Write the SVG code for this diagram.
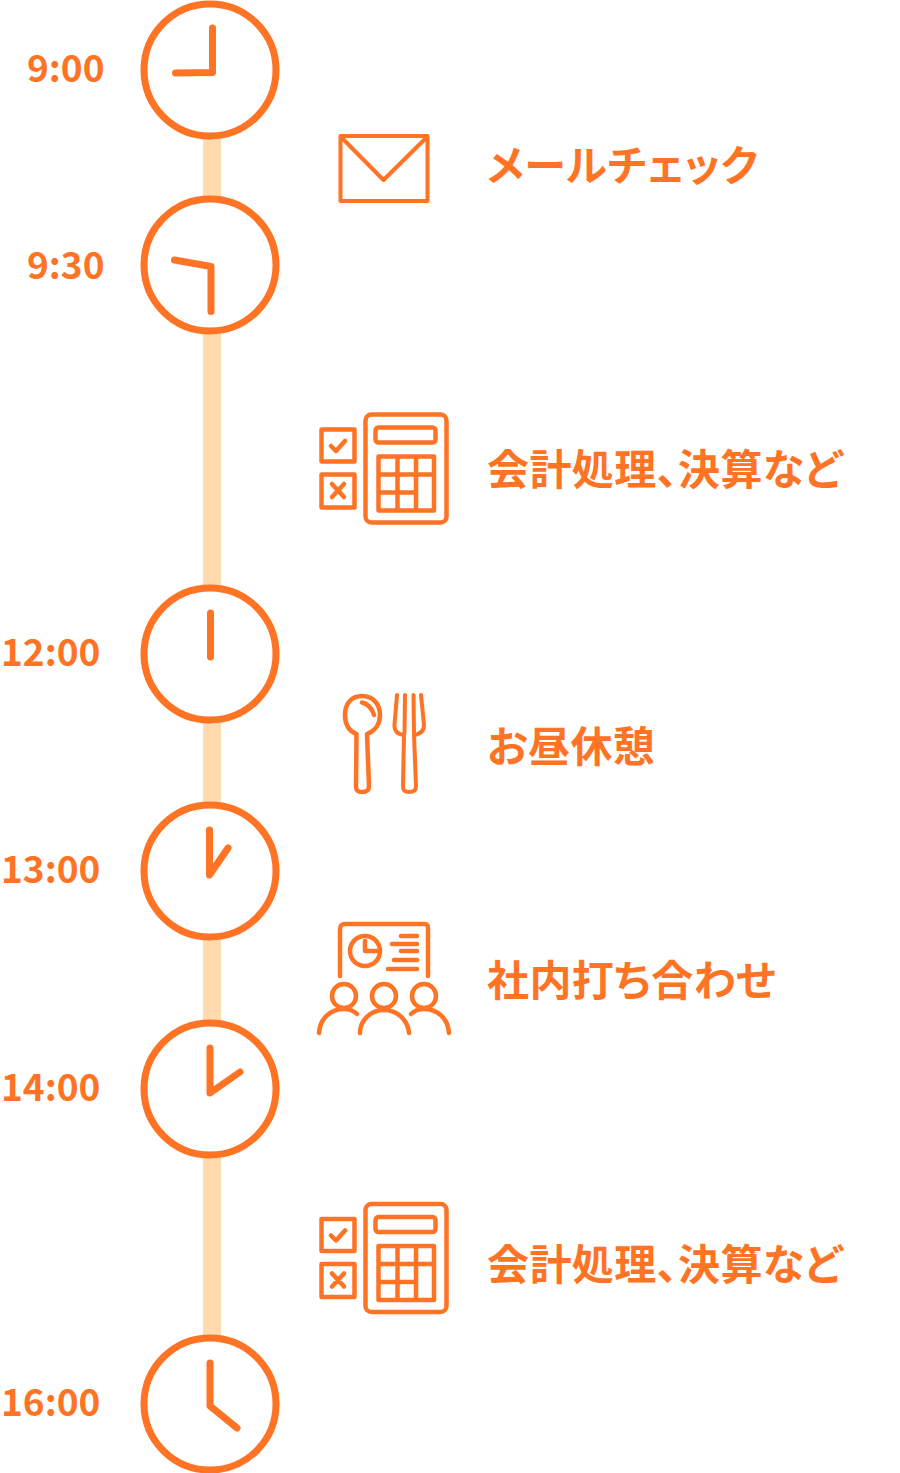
<svg xmlns="http://www.w3.org/2000/svg" width="900" height="1473" viewBox="0 0 900 1473">
<style>
.l{fill:#ffdbae}
.c{fill:#fff;stroke:#ff7324;stroke-width:7}
.h,.i{fill:none;stroke:#ff7324;stroke-linecap:round;stroke-linejoin:round}
.h{stroke-width:7}
.i{stroke-width:4}
.s{stroke-width:4.500}
text{fill:#ff7324;font-family:"Noto Sans CJK JP","Noto Sans",sans-serif;font-weight:700}
.t{font-size:37px}
.a{font-size:42px;letter-spacing:.4px;font-feature-settings:"palt"}
</style>
<defs>
<g id="calc">
<rect class="i s" x="365.500" y="414.500" width="81" height="108" rx="6"/>
<rect class="i s" x="375.500" y="427.500" width="60" height="15" rx="3"/>
<path class="i s" d="M378.500 456.500H434V510.500H378.500ZM378.500 474.500H434M378.500 492.500H416M397.500 456.500V510.500M416 456.500V510.500"/>
<rect class="i s" x="321.500" y="429.500" width="33" height="32"/>
<rect class="i s" x="321.500" y="474.500" width="33" height="33"/>
<path class="i s" d="M331 446L336 451L345 441M332 484L344 497M344 484L332 497"/>
</g>
</defs>
<g id="connectors">
<rect class="l" x="203" y="70" width="18" height="1334"/>
</g>
<g id="clock-900"><circle class="c" cx="210" cy="70" r="66"/><path class="h" d="M212.500 28V72.500L175.500 73"/><text class="t" x="27" y="81.500">9:00</text></g>
<g id="clock-930"><circle class="c" cx="210" cy="265" r="66"/><path class="h" d="M174.500 260L211 266.500V311.500"/><text class="t" x="27" y="278.500">9:30</text></g>
<g id="clock-1200"><circle class="c" cx="210" cy="654" r="66"/><path class="h" d="M210.500 613V657"/><text class="t" x="1" y="665.500">12:00</text></g>
<g id="clock-1300"><circle class="c" cx="210" cy="871" r="66"/><path class="h" d="M209.500 830V875L228 848"/><text class="t" x="1" y="882.500">13:00</text></g>
<g id="clock-1400"><circle class="c" cx="210" cy="1089" r="66"/><path class="h" d="M210 1048V1093L240 1072"/><text class="t" x="1" y="1100.500">14:00</text></g>
<g id="clock-1600"><circle class="c" cx="210" cy="1404" r="66"/><path class="h" d="M210 1363V1406L237 1428"/><text class="t" x="1" y="1415.500">16:00</text></g>
<g id="mail">
<rect class="i" x="340.500" y="136" width="87" height="65"/>
<path class="i" d="M341 137L383.500 180L427 137"/>
<text class="a" x="487" y="181">メールチェック</text>
</g>
<g id="accounting-1">
<use href="#calc"/>
<text class="a" x="487" y="485">会計処理、決算など</text>
</g>
<g id="lunch">
<path class="i s" d="M356.500 734C349 731 345 724 345 715C345 704 351 696 362 696C373 696 380 704 380 715C380 724 375 731 367 734L369 786C369 791 366 792 362 792C358 792 356 791 356 786Z"/>
<path class="i s" d="M362 702.500C368 704 372 708 374 715"/>
<path class="i" d="M397 695L394.500 725C394 731 397 734 404 735L403 786C403 791 405 792 409 792C413 792 416 791 416 786L414 735C421 734 424 731 424 725L421 695M405 695L404.500 733M413.500 695L414 733"/>
<text class="a" x="487" y="762">お昼休憩</text>
</g>
<g id="meeting">
<path class="i s" d="M340 976V930C340 926 341 924 345 924H424C428 924 428 926 428 930V976"/>
<circle class="i s" cx="365" cy="951" r="15"/>
<path class="i s" d="M365 941V951H377M401 936H417M392 944H417M401 951H417M394 960H417M388 969H417"/>
<circle class="i s" cx="344" cy="996" r="12"/>
<circle class="i s" cx="384" cy="996" r="12"/>
<circle class="i s" cx="424" cy="996" r="12"/>
<path class="i s" d="M319 1033C320 1018 331 1009 344 1009C349 1009 354 1011 357 1014M360 1033C360 1020 371 1010 384 1010C397 1010 408 1020 409 1033M411 1014C414 1011 419 1009 424 1009C437 1009 448 1018 449 1033"/>
<text class="a" x="487" y="996">社内打ち合わせ</text>
</g>
<g id="accounting-2">
<use href="#calc" y="789.500"/>
<text class="a" x="487" y="1280">会計処理、決算など</text>
</g>
</svg>
